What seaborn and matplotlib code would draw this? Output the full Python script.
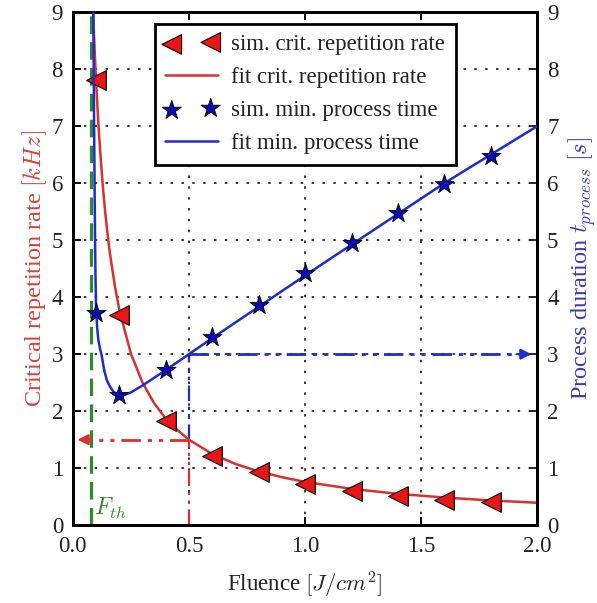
import numpy as np
import pandas as pd
import matplotlib
matplotlib.use("Agg")
import matplotlib.pyplot as plt
import seaborn as sns

# ---------------- data ----------------
fluence_sim = [0.1, 0.2, 0.4, 0.6, 0.8, 1.0, 1.2, 1.4, 1.6, 1.8]
rate_sim = [7.8, 3.68, 1.82, 1.21, 0.93, 0.72, 0.6, 0.51, 0.45, 0.41]
time_sim = [3.72, 2.28, 2.72, 3.3, 3.87, 4.43, 4.95, 5.47, 5.98, 6.48]

fit_rate_fluence = [0.085, 0.09, 0.094, 0.1, 0.11, 0.12, 0.13, 0.14, 0.15, 0.16, 0.18, 0.2,
                    0.25, 0.3, 0.35, 0.4, 0.45, 0.5, 0.6, 0.7, 0.8, 0.9, 1.0,
                    1.2, 1.4, 1.6, 1.8, 2.0]
fit_rate = [9.3, 8.73, 8.33, 7.8, 7.04, 6.43, 5.91, 5.47, 5.09, 4.76, 4.22, 3.78,
            3.01, 2.50, 2.14, 1.87, 1.67, 1.5, 1.25, 1.075, 0.944, 0.843, 0.76,
            0.638, 0.55, 0.486, 0.434, 0.394]

fit_time_fluence = [0.088, 0.09, 0.092, 0.094, 0.096, 0.098, 0.1, 0.105, 0.11, 0.117,
                    0.124, 0.135, 0.146, 0.16, 0.175, 0.2, 0.225, 0.25, 0.3, 0.4,
                    0.5, 0.6, 0.8, 1.0, 1.2, 1.4, 1.6, 1.8, 2.0]
fit_time = [9.2, 7.9, 6.8, 5.8, 4.9, 4.25, 3.8, 3.45, 3.25, 3.1,
            2.98, 2.72, 2.55, 2.43, 2.34, 2.28, 2.29, 2.33, 2.45, 2.72,
            3.0, 3.28, 3.83, 4.38, 4.92, 5.46, 6.0, 6.5, 7.0]

fluence_threshold = 0.077
operating_fluence = 0.5
operating_rate = 1.5
operating_time = 3.0

x_ticks = [0.0, 0.5, 1.0, 1.5, 2.0]
y_ticks = [0, 1, 2, 3, 4, 5, 6, 7, 8, 9]

# ---------------- style ----------------
sns.set_style("ticks")
plt.rcParams["font.family"] = ["Liberation Serif", "DejaVu Serif"]
plt.rcParams["mathtext.fontset"] = "cm"
plt.rcParams["xtick.direction"] = "in"
plt.rcParams["ytick.direction"] = "in"
plt.rcParams["xtick.top"] = True
plt.rcParams["xtick.major.size"] = 6
plt.rcParams["ytick.major.size"] = 6
plt.rcParams["xtick.major.width"] = 1.4
plt.rcParams["ytick.major.width"] = 1.4

red_mark = "#e81616"
red_line = "#d93030"
blue_mark = "#0b0bb0"
blue_line = "#1d2ccc"
green = "#2c8c2c"
red_label = "#d8403a"
blue_label = "#3c3cb4"
text_col = "#222222"

fig = plt.figure(figsize=(5.97, 6.03), dpi=100)
ax = fig.add_axes([0.122, 0.129, 0.778, 0.851])
ax2 = ax.twinx()

sim_df = pd.DataFrame({"fluence": fluence_sim, "rate": rate_sim, "time": time_sim})
rate_df = pd.DataFrame({"fluence": fit_rate_fluence, "rate": fit_rate})
time_df = pd.DataFrame({"fluence": fit_time_fluence, "time": fit_time})

# grid (dotted)
ax.grid(True, which="major", linestyle=(0, (1.6, 5.5)), color="black", linewidth=1.1)
ax.set_axisbelow(True)

# threshold line
ax.axvline(fluence_threshold, color=green, linestyle=(0, (5.5, 2.6)), linewidth=2.3, zorder=2)
ax.text(fluence_threshold + 0.012, 0.08, r"$F_{th}$", color=green, fontsize=17,
        va="bottom", ha="left")

dd = (0, (7, 2.5, 1.5, 2.5, 1.5, 2.5))
# red operating guide
ax.plot([operating_fluence, operating_fluence], [0, operating_rate], color=red_line,
        linestyle=dd, linewidth=1.6, zorder=2)
ax.plot([operating_fluence, 0.06], [operating_rate, operating_rate], color=red_line,
        linestyle=dd, linewidth=2.0, zorder=2)
ax.annotate("", xy=(0.02, operating_rate), xytext=(0.08, operating_rate),
            arrowprops=dict(arrowstyle="-|>", color=red_line, lw=1.5,
                            mutation_scale=16, shrinkA=0, shrinkB=0), zorder=3)
# blue operating guide
ax.plot([operating_fluence, operating_fluence], [operating_rate, operating_time], color=blue_line,
        linestyle=dd, linewidth=1.6, zorder=2)
ax.plot([operating_fluence, 1.92], [operating_time, operating_time], color=blue_line,
        linestyle=dd, linewidth=2.0, zorder=2)
ax.annotate("", xy=(1.975, operating_time), xytext=(1.91, operating_time),
            arrowprops=dict(arrowstyle="-|>", color=blue_line, lw=1.5,
                            mutation_scale=16, shrinkA=0, shrinkB=0), zorder=3)

# fits and simulations
sns.lineplot(data=rate_df, x="fluence", y="rate", ax=ax, color=red_line, linewidth=1.8,
             sort=False, label="fit crit. repetition rate", zorder=3, legend=False)
sns.scatterplot(data=sim_df, x="fluence", y="rate", ax=ax, marker="<", s=200,
                color=red_mark, edgecolor="black", linewidth=0.8, zorder=4,
                label="sim. crit. repetition rate", legend=False)

sns.lineplot(data=time_df, x="fluence", y="time", ax=ax2, color=blue_line, linewidth=1.8,
             sort=False, label="fit min. process time", zorder=3, legend=False)
sns.scatterplot(data=sim_df, x="fluence", y="time", ax=ax2, marker="*", s=210,
                color=blue_mark, edgecolor="black", linewidth=0.6, zorder=4,
                label="sim. min. process time", legend=False)

# axes
for a in (ax, ax2):
    a.set_xlim(0, 2.0)
    a.set_ylim(0, 9)
    a.set_yticks(y_ticks)
    for s in a.spines.values():
        s.set_linewidth(2.0)
        s.set_color("black")
ax.set_xticks(x_ticks)
ax.set_xticklabels([f"{v:.1f}" for v in x_ticks])
ax.tick_params(axis="x", labelsize=16.5, colors="black", labelcolor=text_col, pad=8)
ax.tick_params(axis="y", labelsize=16.5, colors="black", labelcolor=text_col, pad=7)
ax2.tick_params(axis="y", labelsize=16.5, labelcolor=text_col, pad=7)

ax.set_xlabel(r"Fluence $[J/cm^2]$", fontsize=16.5, color=text_col, labelpad=9)
ax.set_ylabel(r"Critical repetition rate $[kHz]$", fontsize=17.5, color=red_label, labelpad=2)
ax2.set_ylabel(r"Process duration $t_{process}$ $[s]$", fontsize=17.5, color=blue_label,
               labelpad=6)

h1, l1 = ax.get_legend_handles_labels()
h2, l2 = ax2.get_legend_handles_labels()
hmap = dict(zip(l1 + l2, h1 + h2))
order = ["sim. crit. repetition rate", "fit crit. repetition rate",
         "sim. min. process time", "fit min. process time"]
leg = ax2.legend([hmap[k] for k in order], order, loc="upper center",
                 bbox_to_anchor=(0.5, 0.99), fontsize=16.5, scatterpoints=2,
                 fancybox=False, framealpha=1, edgecolor="black",
                 handlelength=2.3, handletextpad=0.6, borderpad=0.45,
                 labelspacing=0.52, borderaxespad=0.3)
leg.get_frame().set_linewidth(2.0)
for t in leg.get_texts():
    t.set_color(text_col)

fig.savefig("out.png", dpi=100)
